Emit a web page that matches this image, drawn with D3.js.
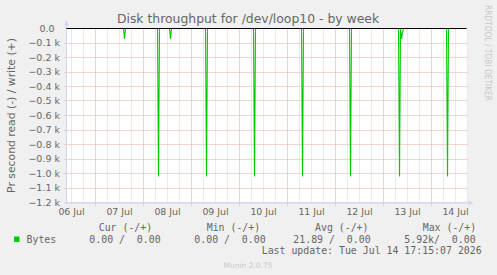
<!DOCTYPE html>
<html>
<head>
<meta charset="utf-8">
<script src="https://cdn.jsdelivr.net/npm/d3@7"></script>
<style>
  body { margin: 0; background: #f0f0f0; }
  svg { display: block; }
  text { font-family: "DejaVu Sans", sans-serif; fill: #666666; }
  .mono { font-family: "DejaVu Sans Mono", monospace; white-space: pre; }
</style>
</head>
<body>
<svg id="chart" width="497" height="275"></svg>
<script>
// Time window shown (one week + a bit, 30 min per pixel)
var windowStart = "2026-07-06 09:30";
var windowEnd = "2026-07-14 17:30";

// read bytes/s (drawn negative)
var readTimes = [
  "2026-07-06 09:30",
  "2026-07-07 14:00", "2026-07-07 14:30", "2026-07-07 15:00",
  "2026-07-08 07:00", "2026-07-08 07:30", "2026-07-08 08:00",
  "2026-07-08 13:00", "2026-07-08 13:30", "2026-07-08 14:00",
  "2026-07-09 07:00", "2026-07-09 07:30", "2026-07-09 08:00",
  "2026-07-10 07:00", "2026-07-10 07:30", "2026-07-10 08:00",
  "2026-07-11 07:00", "2026-07-11 07:30", "2026-07-11 08:00",
  "2026-07-12 07:00", "2026-07-12 07:30", "2026-07-12 08:00",
  "2026-07-13 07:30", "2026-07-13 08:00", "2026-07-13 08:30",
  "2026-07-13 09:00", "2026-07-13 09:30", "2026-07-13 10:00", "2026-07-13 10:30",
  "2026-07-14 07:30", "2026-07-14 08:00", "2026-07-14 08:30",
  "2026-07-14 17:30"
];
var readValues = [
  0,
  0, -72, 0,
  0, -1020, 0,
  0, -72, 0,
  0, -1020, 0,
  0, -1020, 0,
  0, -1020, 0,
  0, -1020, 0,
  0, -1020, 0,
  -72, -25, 0, 0,
  0, -1020, 0,
  0
];

var yTicks = [0, -100, -200, -300, -400, -500, -600, -700, -800, -900, -1000, -1100, -1200];

var legendHeads = ["Cur (-/+)", "Min (-/+)", "Avg (-/+)", "Max (-/+)"];
var legendVals = ["0.00 /  0.00", "0.00 /  0.00", "21.89 /  0.00", "5.92k/  0.00"];
var lastUpdate = "Last update: Tue Jul 14 17:15:07 2026";

var parse = d3.timeParse("%Y-%m-%d %H:%M");
var svg = d3.select("#chart");

var plotL = 66.5, plotR = 466.5, plotT = 28.5, plotB = 202.5;

var x = d3.scaleTime()
  .domain([parse(windowStart), parse(windowEnd)])
  .range([plotL, plotR]);
var y = d3.scaleLinear()
  .domain([-1200, 0])
  .range([plotB, plotT]);

// canvas
svg.append("rect")
  .attr("x", plotL).attr("y", plotT - 0.5)
  .attr("width", plotR - plotL).attr("height", plotB - plotT + 0.5)
  .attr("fill", "#ffffff");

// minor vertical grid, every 6 hours
var minor = x.ticks(d3.timeHour.every(6)).filter(d => d.getHours() != 0);
svg.append("g").selectAll("line")
  .data(minor)
  .join("line")
  .attr("x1", d => Math.floor(x(d)) + 0.5).attr("x2", d => Math.floor(x(d)) + 0.5)
  .attr("y1", plotT).attr("y2", plotB + 2)
  .attr("stroke", "#d4d4d4")
  .attr("stroke-dasharray", "1,1");

// major vertical grid, midnight
var days = x.ticks(d3.timeDay.every(1));
svg.append("g").selectAll("line")
  .data(days)
  .join("line")
  .attr("x1", d => Math.floor(x(d)) + 0.5).attr("x2", d => Math.floor(x(d)) + 0.5)
  .attr("y1", plotT).attr("y2", plotB + 3)
  .attr("stroke", "#eaa0a0")
  .attr("stroke-dasharray", "1,1");

// horizontal grid
svg.append("g").selectAll("line")
  .data(yTicks.filter(d => d != 0))
  .join("line")
  .attr("x1", plotL - 2).attr("x2", plotR + 2)
  .attr("y1", d => Math.round(y(d) - 0.5) + 0.5).attr("y2", d => Math.round(y(d) - 0.5) + 0.5)
  .attr("stroke", "#eaa8a8")
  .attr("stroke-dasharray", "1,1");

// y tick labels
svg.append("g").selectAll("text")
  .data(yTicks)
  .join("text")
  .attr("x", d => d == 0 ? 54.5 : 60)
  .attr("y", d => y(d) + 3.4)
  .attr("text-anchor", "end")
  .style("font-size", "9.5px")
  .text(d => d == 0 ? "0.0" : d3.format(".1f")(d / 1000) + " k");

// x labels at noon of each day
svg.append("g").selectAll("text")
  .data(days.concat([d3.timeDay.offset(days[0], -1)]).map(d => d3.timeHour.offset(d, 12))
    .filter(d => x(d) > plotL && x(d) < plotR))
  .join("text")
  .attr("x", d => x(d))
  .attr("y", 214.5)
  .attr("text-anchor", "middle")
  .style("font-size", "9.4px")
  .text(d => d3.timeFormat("%d %b")(d));

// axes
var axisCol = "#cfd6f8";
svg.append("line")
  .attr("x1", plotL).attr("x2", plotL)
  .attr("y1", plotB + 2).attr("y2", plotT - 4)
  .attr("stroke", axisCol);
svg.append("path")
  .attr("d", "M" + (plotL - 2.5) + "," + (plotT - 3) + "L" + (plotL + 2.5) + "," + (plotT - 3) + "L" + plotL + "," + (plotT - 8) + "Z")
  .attr("fill", axisCol);
svg.append("line")
  .attr("x1", plotL - 2).attr("x2", plotR + 3)
  .attr("y1", plotB + 0.5).attr("y2", plotB + 0.5)
  .attr("stroke", axisCol);
svg.append("path")
  .attr("d", "M" + (plotR + 2) + "," + (plotB - 2) + "L" + (plotR + 2) + "," + (plotB + 3) + "L" + (plotR + 7) + "," + (plotB + 0.5) + "Z")
  .attr("fill", axisCol);

// read series
var readData = readTimes.map((t, i) => ({ t: parse(t), v: readValues[i] }));
svg.append("path")
  .datum(readData)
  .attr("d", d3.line().x(d => x(d.t)).y(d => y(d.v)))
  .attr("fill", "none")
  .attr("stroke", "#00cc00")
  .attr("stroke-width", 1.1);

// zero rule
svg.append("line")
  .attr("x1", plotL).attr("x2", plotR)
  .attr("y1", y(0)).attr("y2", y(0))
  .attr("stroke", "#000000");

// title
svg.append("text")
  .attr("x", 248).attr("y", 22.5)
  .attr("text-anchor", "middle")
  .style("font-size", "12.4px")
  .text("Disk throughput for /dev/loop10 - by week");

// vertical label
svg.append("text")
  .attr("transform", "translate(14.5," + ((plotT + plotB) / 2) + ") rotate(-90)")
  .attr("text-anchor", "middle")
  .style("font-size", "10.8px")
  .text("Pr second read (-) / write (+)");

// watermark
svg.append("text")
  .attr("transform", "translate(484.5,5) rotate(90)")
  .attr("textLength", 96)
  .attr("lengthAdjust", "spacingAndGlyphs")
  .style("font-size", "8px")
  .style("fill", "#c8c8c8")
  .text("RRDTOOL / TOBI OETIKER");

// legend
var headX = [98.7, 206.7, 315, 422.7];
var valX = [89.3, 194.3, 293.3, 404.3];
svg.append("g").selectAll("text")
  .data(legendHeads)
  .join("text")
  .attr("class", "mono")
  .attr("x", (d, i) => headX[i]).attr("y", 230.8)
  .style("font-size", "9.9px")
  .text(d => d);
svg.append("rect")
  .attr("x", 14).attr("y", 236.5)
  .attr("width", 5.5).attr("height", 5.5)
  .attr("fill", "#00cc00");
svg.append("text")
  .attr("class", "mono")
  .attr("x", 26.5).attr("y", 242.5)
  .style("font-size", "9.9px")
  .text("Bytes");
svg.append("g").selectAll("text")
  .data(legendVals)
  .join("text")
  .attr("class", "mono")
  .attr("x", (d, i) => valX[i]).attr("y", 242.5)
  .style("font-size", "9.9px")
  .text(d => d);
svg.append("text")
  .attr("class", "mono")
  .attr("x", 261.7).attr("y", 254.3)
  .style("font-size", "9.9px")
  .text(lastUpdate);

svg.append("text")
  .attr("x", 248).attr("y", 268)
  .attr("text-anchor", "middle")
  .style("font-size", "7.5px")
  .style("fill", "#c8c8c8")
  .text("Munin 2.0.75");
</script>
</body>
</html>
